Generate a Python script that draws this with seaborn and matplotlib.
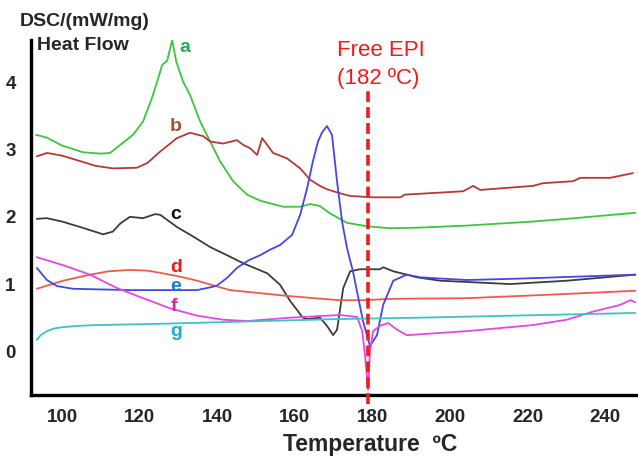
import matplotlib
matplotlib.use("Agg")
import matplotlib.pyplot as plt
import seaborn as sns
import pandas as pd

# ---- data ----
a_T = [93.3, 96.0, 100.0, 105.4, 110.0, 112.4, 115.0, 118.3, 120.9, 123.2, 124.8, 125.8, 127.1, 128.4, 129.4,
       131.2, 133.0, 135.6, 138.2, 140.7, 144.1, 147.7, 151.1, 157.0, 161.4, 164.0, 166.5, 169.1, 173.5, 178.6,
       184.6, 192.3, 204.4, 221.4, 230.2, 247.8]
a_v = [3.22, 3.18, 3.06, 2.96, 2.94, 2.95, 3.07, 3.22, 3.42, 3.77, 4.06, 4.26, 4.32, 4.63, 4.32,
       4.01, 3.81, 3.42, 3.12, 2.83, 2.53, 2.33, 2.24, 2.15, 2.15, 2.19, 2.16, 2.05, 1.91, 1.86,
       1.83, 1.84, 1.87, 1.93, 1.97, 2.06]

b_T = [93.5, 96.1, 100.0, 104.6, 108.5, 113.1, 119.3, 122.0, 125.3, 129.6, 133.0, 136.4, 138.2, 141.5, 145.1,
       146.7, 148.5, 150.3, 151.6, 152.9, 154.4, 158.0, 161.4, 164.0, 166.5, 168.3, 171.7, 174.3, 180.2, 187.2,
       188.4, 203.4, 206.0, 207.8, 221.4, 224.0, 231.8, 233.6, 241.3, 247.2]
b_v = [2.90, 2.95, 2.91, 2.83, 2.76, 2.72, 2.73, 2.80, 2.97, 3.17, 3.25, 3.20, 3.12, 3.09, 3.14,
       3.07, 3.02, 2.92, 3.17, 3.07, 2.95, 2.87, 2.72, 2.55, 2.46, 2.41, 2.35, 2.31, 2.29, 2.29,
       2.33, 2.38, 2.46, 2.40, 2.46, 2.50, 2.53, 2.58, 2.58, 2.65]

c_T = [93.5, 96.1, 100.0, 104.6, 110.6, 113.1, 115.0, 117.5, 120.9, 124.0, 125.3, 129.6, 134.0, 138.2, 142.5,
       146.7, 152.9, 156.2, 158.8, 162.1, 163.2, 166.5, 168.3, 169.9, 170.9, 172.5, 174.3, 176.8, 182.0, 182.8,
       185.4, 188.9, 191.5, 197.5, 215.5, 230.2, 247.8]
c_v = [1.97, 1.98, 1.93, 1.85, 1.74, 1.78, 1.90, 2.00, 1.98, 2.04, 2.03, 1.85, 1.70, 1.55, 1.43,
       1.31, 1.16, 0.99, 0.75, 0.50, 0.48, 0.50, 0.38, 0.24, 0.32, 0.94, 1.19, 1.22, 1.22, 1.25,
       1.19, 1.14, 1.10, 1.05, 1.00, 1.05, 1.14]

d_T = [93.5, 100.3, 107.2, 112.0, 117.5, 122.0, 126.0, 130.5, 134.8, 139.0, 143.3, 148.5, 153.6, 158.8, 165.0,
       171.7, 178.0, 184.6, 204.4, 225.0, 247.8]
d_v = [0.93, 1.05, 1.14, 1.19, 1.21, 1.20, 1.16, 1.11, 1.05, 0.98, 0.91, 0.88, 0.85, 0.82, 0.79,
       0.76, 0.76, 0.78, 0.79, 0.84, 0.90]

e_T = [93.5, 96.1, 98.7, 102.8, 110.0, 117.5, 126.0, 134.8, 138.9, 140.0, 142.5, 145.1, 148.0, 151.1, 153.6,
       156.2, 159.3, 161.4, 163.2, 164.7, 166.0, 167.0, 168.3, 169.6, 170.9, 172.2, 173.5, 175.0, 177.6, 179.4,
       181.2, 182.8, 185.4, 188.9, 192.3, 204.4, 217.3, 247.8]
e_v = [1.24, 1.06, 0.97, 0.93, 0.92, 0.91, 0.91, 0.91, 0.96, 0.98, 1.09, 1.24, 1.35, 1.43, 1.51,
       1.58, 1.73, 2.03, 2.43, 2.83, 3.12, 3.25, 3.35, 3.22, 2.53, 1.93, 1.53, 1.19, 0.45, 0.08,
       0.24, 0.69, 1.05, 1.14, 1.10, 1.06, 1.08, 1.14]

f_T = [93.5, 100.3, 107.2, 114.2, 120.9, 127.8, 134.8, 141.5, 147.7, 158.8, 171.7, 176.1, 177.4, 178.1, 178.9,
       179.4, 180.2, 182.0, 184.1, 186.4, 188.9, 204.4, 221.4, 230.2, 236.9, 243.9, 246.5, 247.8]
f_v = [1.40, 1.28, 1.14, 0.94, 0.79, 0.64, 0.53, 0.47, 0.45, 0.50, 0.54, 0.51, 0.30, -0.05, -0.57,
       0.00, 0.30, 0.38, 0.42, 0.32, 0.24, 0.30, 0.39, 0.47, 0.59, 0.69, 0.76, 0.73]

g_T = [93.5, 94.5, 96.1, 98.0, 100.3, 104.6, 109.0, 117.5, 126.0, 151.8, 171.7, 192.3, 247.8]
g_v = [0.17, 0.24, 0.30, 0.34, 0.36, 0.38, 0.39, 0.40, 0.41, 0.45, 0.48, 0.50, 0.57]

curve_names = ["a", "b", "c", "d", "e", "f", "g"]
line_colors = ["#3ec43e", "#b23a3a", "#3c3c3c", "#ee5a4e", "#4646e0", "#e646e6", "#3ec2c2"]
label_colors = ["#1fae55", "#a5522a", "#111111", "#e61e1e", "#1f78c8", "#e0209a", "#22a8e6"]
label_T = [131.6, 129.4, 129.4, 129.4, 129.4, 128.9, 129.4]
label_v = [4.52, 3.35, 2.04, 1.24, 0.97, 0.67, 0.29]

x_ticks = [100, 120, 140, 160, 180, 200, 220, 240]
y_ticks = [0, 1, 2, 3, 4]
free_epi_T = 179.0

frames = []
for name, T, v in zip(curve_names,
                      [a_T, b_T, c_T, d_T, e_T, f_T, g_T],
                      [a_v, b_v, c_v, d_v, e_v, f_v, g_v]):
    frames.append(pd.DataFrame({"T": T, "v": v, "curve": name}))
df = pd.concat(frames, ignore_index=True)

# ---- plot ----
sns.set_style("white")
plt.rcParams["font.family"] = ["Liberation Sans", "DejaVu Sans"]

fig = plt.figure(figsize=(6.38, 4.57), dpi=100)
ax = fig.add_axes([31 / 638, 62 / 457, 607 / 638, 355 / 457])

sns.lineplot(data=df, x="T", y="v", hue="curve", hue_order=curve_names,
             palette=dict(zip(curve_names, line_colors)), estimator=None, sort=False,
             linewidth=1.3, legend=False, ax=ax)

ax.set_xlim(92.0, 248.5)
ax.set_ylim(-0.65, 4.63)

# free EPI marker
ax.plot([free_epi_T, free_epi_T], [-0.78, 3.87], color="#ee1c1c", linestyle=(0, (3.0, 1.4)),
        linewidth=2.6, clip_on=False, zorder=5)
ax.text(182.3, 4.47, "Free EPI", color="#ee1c1c", fontsize=16,
        ha="center", va="center", clip_on=False)
ax.text(181.6, 4.05, "(182 ºC)", color="#ee1c1c", fontsize=16,
        ha="center", va="center", clip_on=False)

for name, tx, ty, col in zip(curve_names, label_T, label_v, label_colors):
    ax.text(tx, ty, name, color=col, fontsize=14, fontweight="bold", ha="center", va="center")

ax.set_xticks(x_ticks)
ax.set_yticks(y_ticks)
ax.set_xticklabels([str(t) for t in x_ticks], fontsize=13.5, fontweight="bold")
ax.set_yticklabels([str(t) for t in y_ticks], fontsize=13.5, fontweight="bold")
ax.tick_params(axis="x", length=0, pad=10)
ax.tick_params(axis="y", length=0, pad=11)
ax.set_xlabel("")
ax.set_ylabel("")

for s in ["top", "right"]:
    ax.spines[s].set_visible(False)
for s in ["left", "bottom"]:
    ax.spines[s].set_color("black")
    ax.spines[s].set_linewidth(2.4)

fig.text(20 / 638, 1 - 22 / 457, "DSC/(mW/mg)", fontsize=14, fontweight="bold", ha="left", va="center")
fig.text(37 / 638, 1 - 46 / 457, "Heat Flow", fontsize=14, fontweight="bold", ha="left", va="center")
fig.text(370 / 638, 1 - 444 / 457, "Temperature  ºC", fontsize=16.5, fontweight="bold", ha="center", va="center")

fig.savefig("out.png", dpi=100)
